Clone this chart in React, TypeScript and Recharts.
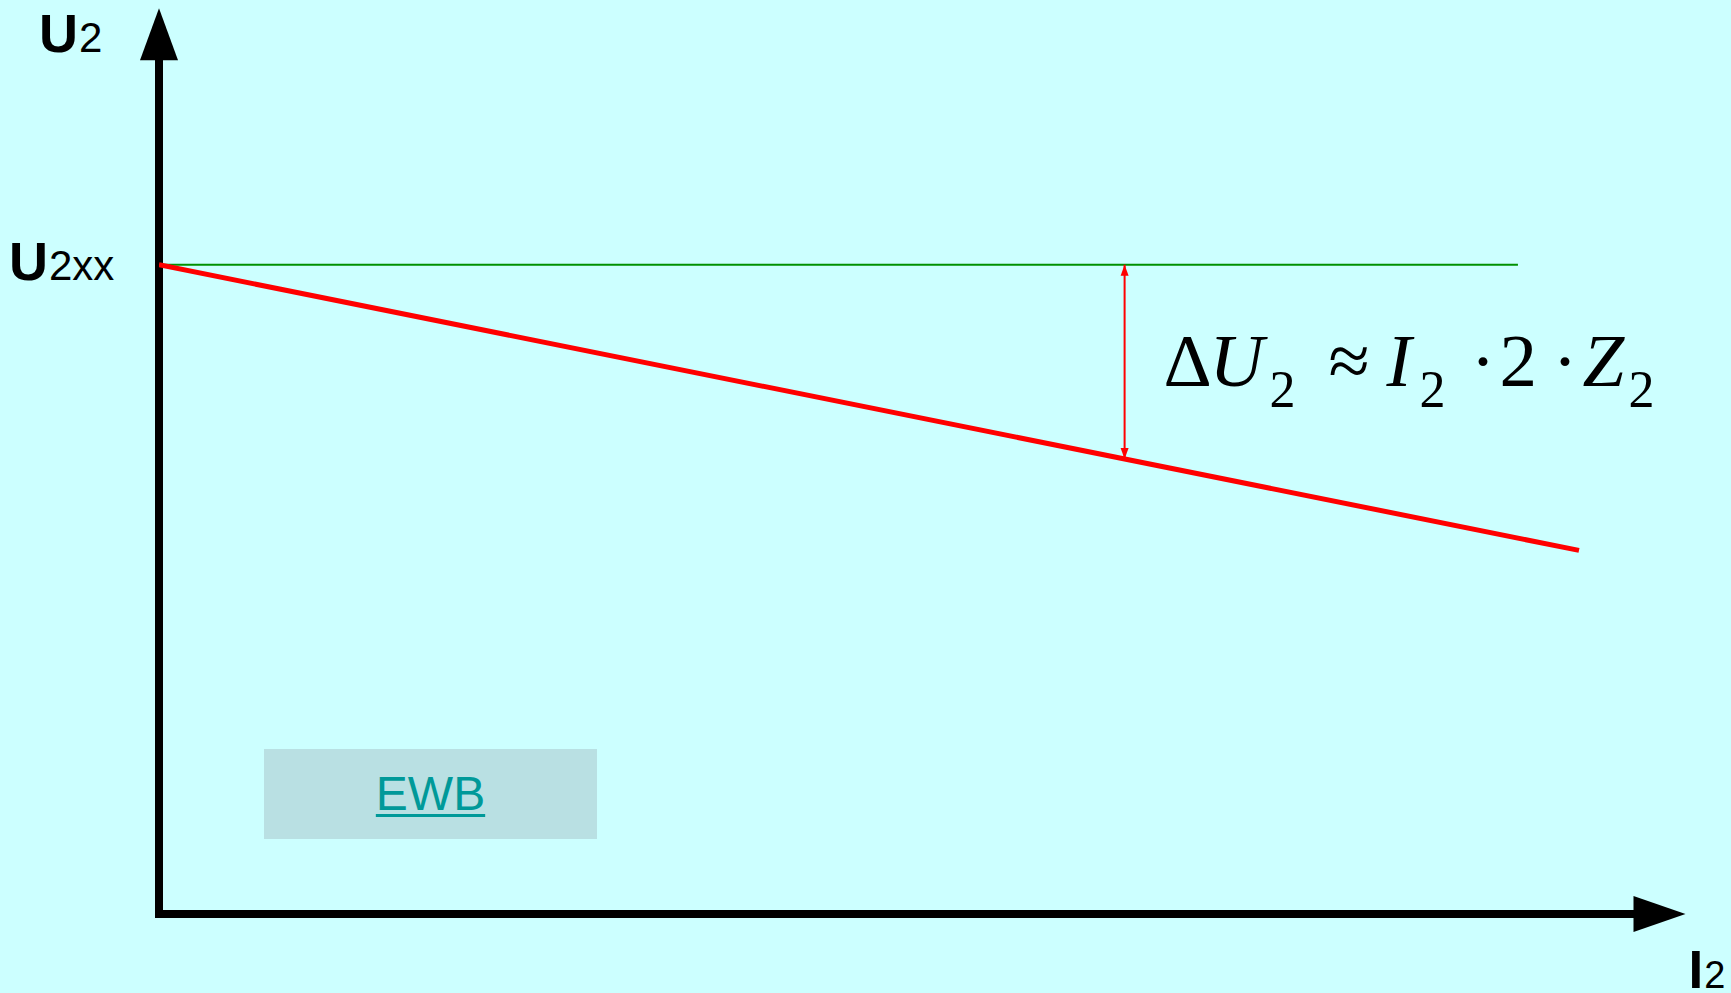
import { ComposedChart, Line, XAxis, YAxis, ReferenceLine, ReferenceDot } from "recharts"

// axis ranges (arbitrary units: I2 along x, U2 along y)
const I_MAX = 107.5
const U_MAX = 140
const I_ARROW_BASE = 104
const U_ARROW_BASE = 132
const U_ARROW_TIP = 139.5

// no-load voltage level
const U2XX = 100
const IDLE_I = [0, 95.7]

// external characteristic U2(I2)
const LOAD_I = [0, 100]
const LOAD_U = [100, 56]

// where the voltage drop is shown
const DELTA_I = 68

const SANS = '"Liberation Sans", Arial, sans-serif'
const SERIF = '"Liberation Serif", "Times New Roman", serif'

const loadData = LOAD_I.map((i, k) => ({ I: i, U: LOAD_U[k] }))
const idleData = IDLE_I.map(i => ({ I: i, U: U2XX }))

const deltaLow = LOAD_U[0] + (LOAD_U[1] - LOAD_U[0]) * (DELTA_I - LOAD_I[0]) / (LOAD_I[1] - LOAD_I[0])

// ΔU2 ≈ I2·2·Z2, glyph by glyph (main: 75px, subscripts: 52px)
const formula = [
  { t: "\u0394", dx: 39, sub: false, italic: false },
  { t: "U", dx: 85, sub: false, italic: true },
  { t: "2", dx: 145, sub: true, italic: false },
  { t: "\u2248", dx: 204, sub: false, italic: false },
  { t: "I", dx: 262, sub: false, italic: true },
  { t: "2", dx: 295, sub: true, italic: false },
  { t: "\u00b7", dx: 346, sub: false, italic: false },
  { t: "2", dx: 375, sub: false, italic: false },
  { t: "\u00b7", dx: 428, sub: false, italic: false },
  { t: "Z", dx: 458, sub: false, italic: true },
  { t: "2", dx: 504, sub: true, italic: false },
]

const upArrow = (len: number, half: number, fill: string) => (p: any) => (
  <polygon points={`${p.cx},${p.cy} ${p.cx - half},${p.cy + len} ${p.cx + half},${p.cy + len}`} fill={fill} />
)
const downArrow = (len: number, half: number, fill: string) => (p: any) => (
  <polygon points={`${p.cx},${p.cy} ${p.cx - half},${p.cy - len} ${p.cx + half},${p.cy - len}`} fill={fill} />
)
const rightArrow = (len: number, half: number, fill: string) => (p: any) => (
  <polygon points={`${p.cx},${p.cy} ${p.cx - len},${p.cy - half} ${p.cx - len},${p.cy + half}`} fill={fill} />
)

export default function App() {
  return (
    <div style={{ position: "absolute", left: 0, top: 0, width: 1731, height: 993, background: "#ccffff" }}>
      <ComposedChart width={1731} height={993} margin={{ top: 5, right: 45.5, bottom: 79, left: 159 }}>
        <XAxis type="number" dataKey="I" domain={[0, I_MAX]} hide allowDataOverflow />
        <YAxis type="number" dataKey="U" domain={[0, U_MAX]} hide allowDataOverflow />

        {/* axes */}
        <ReferenceLine segment={[{ x: 0, y: 0 }, { x: I_ARROW_BASE, y: 0 }]} stroke="#000" strokeWidth={8} strokeLinecap="square" ifOverflow="visible" />
        <ReferenceLine segment={[{ x: 0, y: 0 }, { x: 0, y: U_ARROW_BASE }]} stroke="#000" strokeWidth={8} strokeLinecap="square" ifOverflow="visible" />
        <ReferenceDot x={I_MAX} y={0} ifOverflow="visible" shape={rightArrow(52, 18, "#000")} />
        <ReferenceDot x={0} y={U_ARROW_TIP} ifOverflow="visible" shape={upArrow(52, 19, "#000")} />

        <Line data={idleData} dataKey="U" type="linear" stroke="#009000" strokeWidth={2} dot={false} activeDot={false} isAnimationActive={false} />
        <Line data={loadData} dataKey="U" type="linear" stroke="#ff0000" strokeWidth={5} dot={false} activeDot={false} isAnimationActive={false} />

        {/* voltage drop arrow */}
        <ReferenceLine segment={[{ x: DELTA_I, y: U2XX }, { x: DELTA_I, y: deltaLow }]} stroke="#ff0000" strokeWidth={2} ifOverflow="visible" />
        <ReferenceDot x={DELTA_I} y={U2XX} ifOverflow="visible" shape={upArrow(11, 4, "#ff0000")} />
        <ReferenceDot x={DELTA_I} y={deltaLow} ifOverflow="visible" shape={downArrow(11, 4, "#ff0000")} />

        {/* formula */}
        <ReferenceDot
          x={DELTA_I}
          y={U2XX}
          ifOverflow="visible"
          shape={(p: any) => (
            <g>
              {formula.map((f, k) => (
                <text key={k} x={p.cx + f.dx} y={p.cy + (f.sub ? 142 : 121)} fontFamily={SERIF}
                  fontSize={f.sub ? 52 : 75} fontStyle={f.italic ? "italic" : "normal"} fill="#000">{f.t}</text>
              ))}
            </g>
          )}
        />

        {/* axis labels */}
        <ReferenceDot
          x={0}
          y={U_ARROW_TIP}
          ifOverflow="visible"
          shape={(p: any) => (
            <text x={p.cx - 120} y={p.cy + 44} fontFamily={SANS} fill="#000">
              <tspan fontSize={54} fontWeight="bold">U</tspan>
              <tspan fontSize={42} dx={1}>2</tspan>
            </text>
          )}
        />
        <ReferenceDot
          x={0}
          y={U2XX}
          ifOverflow="visible"
          shape={(p: any) => (
            <text x={p.cx - 150} y={p.cy + 15} fontFamily={SANS} fill="#000">
              <tspan fontSize={54} fontWeight="bold">U</tspan>
              <tspan fontSize={42} dx={1}>2xx</tspan>
            </text>
          )}
        />
        <ReferenceDot
          x={I_MAX}
          y={0}
          ifOverflow="visible"
          shape={(p: any) => (
            <text x={p.cx + 3} y={p.cy + 74} fontFamily={SANS} fill="#000">
              <tspan fontSize={53} fontWeight="bold">I</tspan>
              <tspan fontSize={38} dx={1}>2</tspan>
            </text>
          )}
        />
      </ComposedChart>

      <div
        style={{
          position: "absolute", left: 264, top: 749, width: 333, height: 90, background: "#b9e0e3",
          display: "flex", alignItems: "center", justifyContent: "center",
        }}
      >
        <span style={{ fontFamily: SANS, fontSize: 48, color: "#009999", textDecoration: "underline", textDecorationThickness: 3, textUnderlineOffset: 4, lineHeight: 1 }}>
          EWB
        </span>
      </div>
    </div>
  )
}
